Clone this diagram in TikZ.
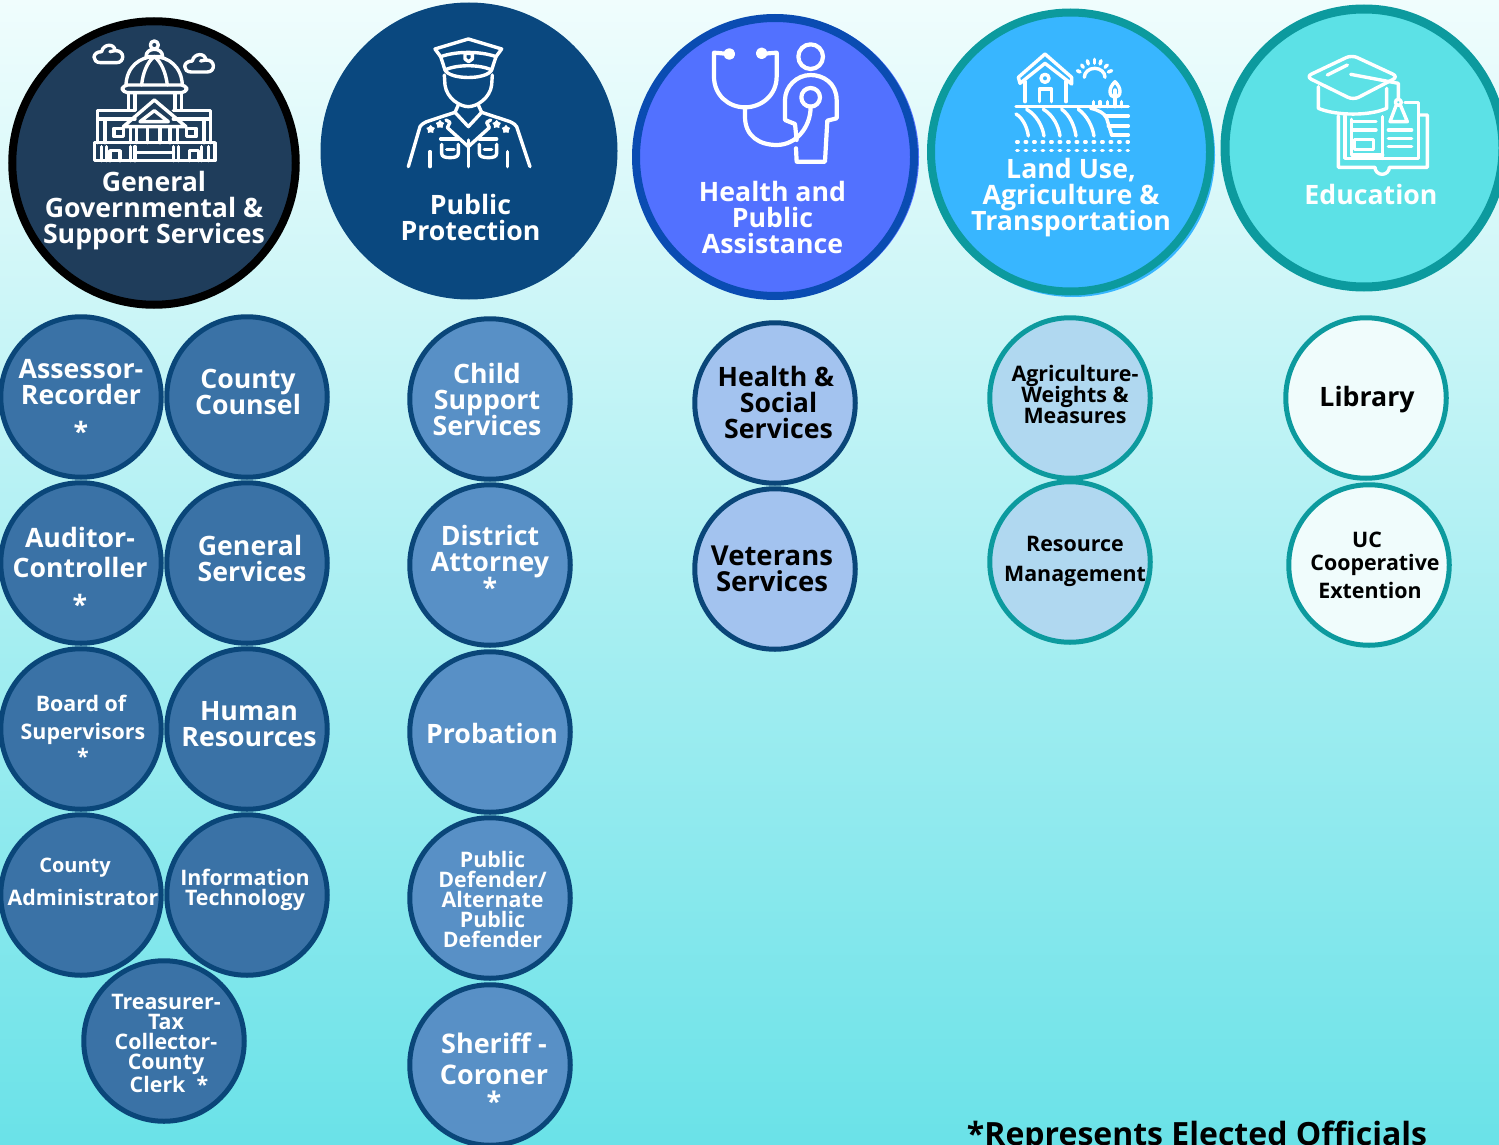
\documentclass[tikz,border=0pt]{standalone}
\usepackage{fontspec}
\setmainfont{Open Sans}
\usetikzlibrary{shapes.geometric}
\definecolor{skytop}{HTML}{F0FDFD}
\definecolor{skybot}{HTML}{6AE2E8}
\definecolor{govfill}{HTML}{1F3D5B}
\definecolor{pubfill}{HTML}{0A487F}
\definecolor{hlthfill}{HTML}{5271FF}
\definecolor{hlthline}{HTML}{0A4CB2}
\definecolor{landfill}{HTML}{38B6FF}
\definecolor{tealline}{HTML}{0C9A9E}
\definecolor{edufill}{HTML}{5CE1E6}
\definecolor{unitline}{HTML}{0A4679}
\definecolor{govunit}{HTML}{3A72A6}
\definecolor{pubunit}{HTML}{5890C6}
\definecolor{hlthunit}{HTML}{A3C3EF}
\definecolor{landunit}{HTML}{B0D8F0}
\definecolor{libunit}{HTML}{F0FCFC}
\tikzset{
  bigc/.style={circle, line width=8pt, minimum size=278pt, inner sep=0pt},
  unitc/.style={circle, draw=unitline, line width=5pt, minimum size=160.5pt, inner sep=0pt},
  lbl/.style={align=center, inner sep=0pt, text=white, execute at begin node={\lineskiplimit=-60pt}},
  dark/.style={text=black},
  txtL/.style={lbl, font=\fontsize{26.7}{26}\bfseries\selectfont},
  txtM/.style={lbl, font=\fontsize{21.4}{20}\bfseries\selectfont},
  icon/.style={draw=white, line width=3.4pt, line cap=round, line join=round},
  starmark/.style={star, star points=5, fill=white, inner sep=0pt, minimum size=9pt},
}
\begin{document}
\begin{tikzpicture}[x=1pt, y=-1pt]
\useasboundingbox (0,0) rectangle (1499,1145);
\shade[top color=skytop, bottom color=skybot] (0,0) rectangle (1499,1145);

% big circles
\node[bigc, draw=black, fill=govfill, minimum size=283.5pt] (gov) at (154,163) {};
\node[bigc, fill=pubfill, minimum size=297pt] (pub) at (469,151) {};
\node[bigc, fill=hlthfill, minimum size=284pt] (hlthback) at (777,157) {};
\node[bigc, draw=hlthline, fill=hlthfill] (hlth) at (775,157) {};
\node[bigc, fill=landfill, minimum size=284pt] (landback) at (1073,155) {};
\node[bigc, draw=tealline, fill=landfill, minimum size=279pt] (land) at (1070.5,152) {};
\node[bigc, draw=tealline, fill=edufill, line width=9pt] (edu) at (1364,148) {};

\node[txtL] (govtxt) at (154,211) {General\\Governmental \&\\Support Services};
\node[txtL] (pubtxt) at (470.5,217) {Public\\Protection};
\node[txtL] (hlthtxt) at (772.5,217) {Health and\\Public\\Assistance};
\node[txtL] (landtxt) at (1071,198) {Land Use,\\Agriculture \&\\Transportation};
\node[txtL] (edutxt) at (1371,194) {Education};

% small circles
\foreach \nm/\cx/\cy in {asr/81/397, aud/81/563, bos/81/729, cao/81/895, cty/247/397, gsd/247/563, hrd/247/729, itd/247/895, ttc/164/1041}
  \node[unitc, fill=govunit] (\nm) at (\cx,\cy) {};
\foreach \nm/\cx/\cy in {css/490/399, da/490/565, prob/490/732, pd/490/898, shf/490/1065}
  \node[unitc, fill=pubunit] (\nm) at (\cx,\cy) {};
\foreach \nm/\cx/\cy in {hss/775/403, vet/775/569}
  \node[unitc, fill=hlthunit] (\nm) at (\cx,\cy) {};
\foreach \nm/\cx/\cy in {awm/1070/398, rma/1070/562}
  \node[unitc, draw=tealline, fill=landunit] (\nm) at (\cx,\cy) {};
\foreach \nm/\cx/\cy in {lib/1366/398, uce/1369/565}
  \node[unitc, draw=tealline, fill=libunit] (\nm) at (\cx,\cy) {};

\node[txtL] (asrtxt) at (81,400.5) {Assessor-\\Recorder\\[11pt]*};
\node[txtL] (audtxt) at (80,570.5) {Auditor-\\[4pt]Controller\\[11pt]*};
\node[txtM, font=\fontsize{21.4}{28}\bfseries\selectfont] (bostxt) at (83,730) {\hspace*{-4pt}Board of\\Supervisors\\[-3pt]*};
\node[txtM, font=\fontsize{21.4}{33}\bfseries\selectfont] (caotxt) at (83,882) {\hspace*{-16pt}{\fontsize{20}{33}\bfseries\selectfont County}\\Administrator};
\node[txtL] (ctytxt) at (248,392) {County\\Counsel};
\node[txtL] (gsdtxt) at (252,558) {\hspace*{-4pt}General\\Services};
\node[txtL] (hrdtxt) at (249,724) {Human\\Resources};
\node[txtM] (itdtxt) at (245,890) {Information\\Technology};
\node[txtM] (ttctxt) at (166,1043.5) {Treasurer-\\Tax\\Collector-\\County\\[3pt]\hspace*{6pt}Clerk \ *};

\node[txtL] (csstxt) at (487,399) {Child\\Support\\Services};
\node[txtL] (datxt) at (490,561) {District\\Attorney\\[0pt]*};
\node[txtL] (probtxt) at (492,733) {Probation};
\node[txtM] (pdtxt) at (492.5,899) {Public\\Defender/\\Alternate\\Public\\Defender};
\node[txtL, font=\fontsize{27}{31}\bfseries\selectfont] (shftxt) at (494,1072) {Sheriff -\\Coroner\\[-4pt]*};

\node[txtL, dark] (hsstxt) at (778.5,402) {\hspace*{-5pt}Health \&\\Social\\Services};
\node[txtL, dark, font=\fontsize{27.5}{26}\bfseries\selectfont] (vettxt) at (772,569) {Veterans\\Services};
\node[txtM, dark, font=\fontsize{21.4}{21}\bfseries\selectfont] (awmtxt) at (1075,394) {Agriculture-\\Weights \&\\Measures};
\node[txtM, dark, font=\fontsize{21.4}{29.5}\bfseries\selectfont] (rmatxt) at (1075,561.5) {Resource\\Management};
\node[txtL, dark] (libtxt) at (1367,400) {Library};
\node[txtM, dark, font=\fontsize{21.4}{25}\bfseries\selectfont] (ucetxt) at (1375,565) {\hspace*{-16pt}UC\\[-2pt]Cooperative\\[3pt]\hspace*{-10pt}Extention};

\node[lbl, dark, font=\fontsize{32}{32}\bfseries\selectfont, anchor=base] (note) at (1197,1145) {*Represents Elected Officials};

% capitol
\begin{scope}[shift={(60,20)}, scale=0.3333, icon]
\draw (283,75) circle (12);
\draw (258,110) .. controls (258,95) and (270,88) .. (283,88) .. controls (296,88) and (308,95) .. (308,110) -- cycle;
\draw (198,195) .. controls (200,140) and (240,110) .. (283,110) .. controls (325,110) and (365,140) .. (367,195);
\draw (245,195) .. controls (248,160) and (262,125) .. (283,110) .. controls (304,125) and (318,160) .. (322,195);
\draw[rounded corners=5pt] (187,195) rectangle (380,218);
\foreach \x in {205,225,345,365} \draw (\x,218) -- (\x,270);
\draw (225,272) -- (113,272) -- (113,368);
\draw (340,272) -- (452,272) -- (452,368);
\draw (113,297) -- (225,297);
\draw (340,297) -- (445,297);
\draw (190,320) -- (283,240) -- (378,320) -- cycle;
\draw (240,305) -- (283,272) -- (325,305) -- cycle;
\draw (135,300) -- (135,368);
\draw (432,300) -- (432,368);
\draw (162,325) rectangle (190,350);
\draw (380,325) rectangle (408,350);
\foreach \x in {212,230,262,300,330,352} \draw (\x,325) -- (\x,368);
\draw (103,368) rectangle (465,422);
\foreach \x in {125,140,212,225,340,355,425,445} \draw (\x,380) -- (\x,422);
\draw (150,422) -- (150,392) -- (180,392) -- (180,422);
\draw (388,422) -- (388,392) -- (415,392) -- (415,422);
\draw (225,397) -- (340,397);
\foreach \dx/\dy in {0/0, 272/28}
  \draw[shift={(\dx,\dy)}] (122,128) .. controls (95,128) and (95,95) .. (125,95) .. controls (130,70) and (165,70) .. (165,92) .. controls (195,90) and (195,128) .. (170,128) -- cycle (150,95) -- (165,92);
\end{scope}

% officer
\begin{scope}[shift={(390,25)}, scale=0.3333, icon]
\draw (135,72) -- (235,42) -- (335,72) -- (318,95) .. controls (270,78) and (200,78) .. (152,95) -- cycle;
\draw (152,95) -- (165,135) .. controls (200,118) and (270,118) .. (305,135) -- (318,95);
\draw (165,135) .. controls (180,165) and (290,165) .. (305,135);
\draw (225,85) -- (225,102) -- (236,110) -- (247,102) -- (247,85) -- cycle;
\draw (163,150) -- (165,180) .. controls (170,220) and (210,245) .. (235,245) .. controls (260,245) and (300,220) .. (305,180) -- (307,150);
\draw (205,240) -- (195,262) -- (235,305) -- (275,262) -- (265,240);
\draw (195,262) -- (110,290) .. controls (100,295) and (92,300) .. (90,305) -- (55,425);
\draw (275,262) -- (360,290) .. controls (370,295) and (378,300) .. (380,305) -- (420,425);
\draw (168,285) -- (180,292) -- (172,308) -- (235,365) -- (298,308) -- (290,292) -- (302,285);
\draw (235,345) -- (235,425);
\draw (152,342) -- (205,342) (268,342) -- (320,342);
\draw (155,358) -- (155,385) .. controls (155,395) and (165,398) .. (180,398) .. controls (195,398) and (205,395) .. (205,385) -- (205,358);
\draw (268,358) -- (268,385) .. controls (268,395) and (280,398) .. (295,398) .. controls (310,398) and (320,395) .. (320,385) -- (320,358);
\draw (170,373) -- (192,373) (283,373) -- (305,373);
\draw (120,380) -- (120,425) (352,380) -- (352,425);
\node[starmark] (stara) at (122,313) {};
\node[starmark] (starb) at (150,298) {};
\node[starmark] (starc) at (320,298) {};
\node[starmark] (stard) at (348,313) {};
\end{scope}

% stethoscope
\begin{scope}[shift={(690,30)}, scale=0.3333, icon, line width=4.2pt]
\draw (118,72) -- (72,68) -- (72,140) .. controls (72,195) and (115,232) .. (165,232) .. controls (215,232) and (260,195) .. (260,140) -- (260,68) -- (212,72);
\filldraw[fill=white] (118,72) circle (11) (215,70) circle (11);
\draw (165,232) -- (165,260) .. controls (165,320) and (210,345) .. (260,345) .. controls (320,345) and (362,290) .. (362,230);
\draw (362,202) circle (28);
\draw (362,80) circle (37);
\draw (318,355) -- (320,395) -- (405,395) -- (412,272) -- (440,265) -- (440,210) .. controls (440,160) and (400,135) .. (362,135) .. controls (320,135) and (285,170) .. (285,210) -- (285,270) -- (315,282) -- (320,330);
\end{scope}

% farm
\begin{scope}[shift={(1000,40)}, scale=0.3333, icon]
\draw (60,130) -- (55,112) -- (135,42) -- (215,112) -- (215,132) -- (135,70) -- cycle;
\draw (75,125) -- (75,185) (198,125) -- (198,185);
\draw (118,185) -- (118,147) -- (155,147) -- (155,185);
\draw (135,115) circle (12);
\draw (48,200) -- (385,200);
\draw (48,222) .. controls (70,235) and (82,265) .. (85,288);
\draw (80,208) .. controls (110,225) and (128,260) .. (132,288);
\draw (130,208) .. controls (160,225) and (176,260) .. (180,288);
\draw (185,208) .. controls (210,225) and (224,260) .. (228,288);
\draw (235,208) .. controls (260,225) and (278,260) .. (282,288);
\draw (272,205) .. controls (295,210) and (315,220) .. (320,235) -- (335,285);
\draw (315,228) -- (385,228) (325,258) -- (385,258) (335,285) -- (385,285);
\draw[dash pattern=on 1.5pt off 7pt] (50,306) -- (385,306) (50,332) -- (385,332);
\draw (253,112) arc (180:360:31 and 27);
\foreach \xa/\ya/\xb/\yb in {232/92/240/96, 245/75/250/82, 262/62/265/72, 283/58/283/70, 303/62/300/72, 322/75/315/82, 335/92/325/96}
  \draw (\xa,\ya) -- (\xb,\yb);
\draw (345,125) .. controls (335,135) and (330,145) .. (330,155) .. controls (330,165) and (337,172) .. (345,172) .. controls (353,172) and (360,165) .. (360,155) .. controls (360,145) and (355,135) .. (345,125) -- cycle;
\draw (345,150) -- (345,200);
\foreach \x in {280,300,322,365} \draw (\x,185) -- (\x,200);
\end{scope}

% cap and book
\begin{scope}[shift={(1290,40)}, scale=0.3333, icon]
\draw[rounded corners=6pt] (48,110) -- (185,45) -- (325,110) -- (190,180) -- cycle;
\draw (85,140) -- (85,205) .. controls (140,228) and (240,228) .. (290,205) -- (290,145);
\draw (112,105) -- (172,75);
\draw (182,103) -- (325,130) -- (325,175);
\draw (325,187) circle (9);
\draw (318,197) -- (300,245) -- (352,245) -- (332,197);
\draw (145,228) -- (145,382) -- (255,382) arc (180:0:21.5 and 21) -- (412,382) -- (412,225) -- (388,225);
\draw (165,228) -- (165,355) -- (385,355) -- (385,187) -- (345,187);
\draw (278,230) -- (278,355);
\draw (185,238) -- (185,345) -- (278,345);
\draw (185,245) -- (258,245) (185,270) -- (258,270);
\draw (194,298) rectangle (250,328);
\draw (295,270) -- (365,270) (295,295) -- (365,295) (295,320) -- (365,320);
\end{scope}
\end{tikzpicture}
\end{document}
